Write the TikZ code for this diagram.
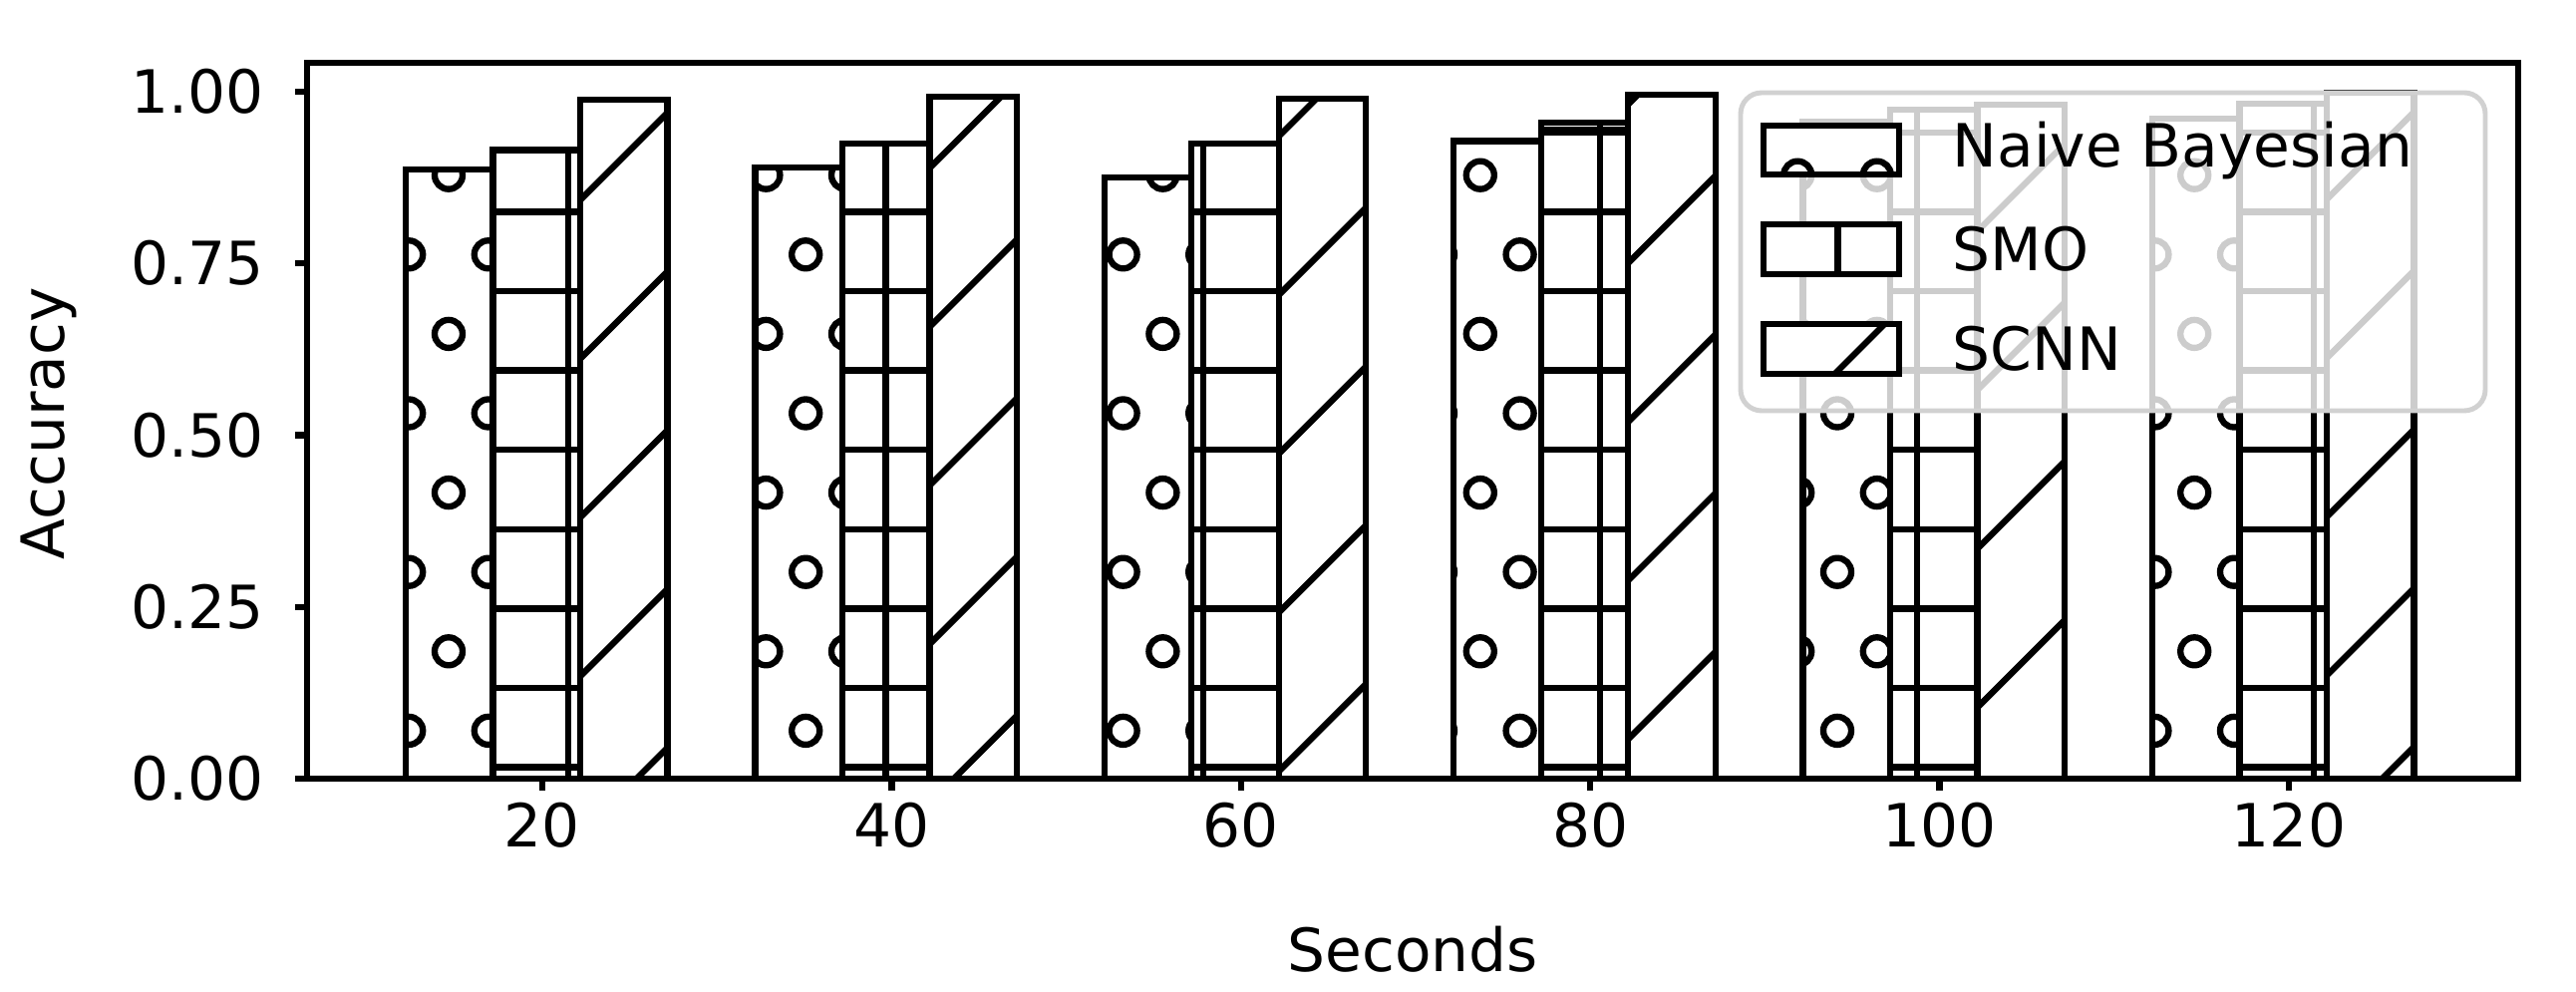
\documentclass[tikz,border=0pt]{standalone}
\usepackage{fontspec}
\setmainfont{DejaVu Sans}
\begin{document}
\begin{tikzpicture}[x=0.01cm,y=-0.01cm,
  bl/.style={line width=1.8pt},
  hl/.style={line width=1.8pt},
  lab/.style={font=\fontsize{17}{20}\selectfont,inner sep=0pt}]
\useasboundingbox (0,0) rectangle (2584,995);
\def\P{79.6}
\newcommand\patdots[3]{%
  \pgfmathtruncatemacro\mA{floor((#1-450)/79.6)-1}%
  \pgfmathtruncatemacro\mB{\mA+3}%
  \foreach \m in {\mA,...,\mB}{\foreach \n in {-1,...,5}{
    \draw[hl] (450+\m*\P,175.7+\n*159.2) circle[radius=0.14cm];
    \draw[hl] (489.8+\m*\P,255.3+\n*159.2) circle[radius=0.14cm];}}}
\newcommand\patgrid[3]{%
  \foreach \k in {0,...,9}{\draw[hl] (#1,769.6-\k*\P) -- (#2,769.6-\k*\P);}%
  \pgfmathtruncatemacro\mA{floor((#1-570)/79.6)}%
  \pgfmathtruncatemacro\mB{\mA+2}%
  \foreach \m in {\mA,...,\mB}{\draw[hl] (570+\m*\P,0) -- (570+\m*\P,800);}}
\newcommand\patdiag[3]{%
  \pgfmathtruncatemacro\kA{floor((#1-670-112.7)/159.2)-1}%
  \pgfmathtruncatemacro\kB{\kA+7}%
  \foreach \k in {\kA,...,\kB}{\draw[hl] (#1-10,{112.7-(#1-10-670)+\k*159.2}) -- (#2+10,{112.7-(#2+10-670)+\k*159.2});}}
\newcommand\onebar[5]{% x0 x1 ytop ybot pattern
  \fill[white] (#1,#3) rectangle (#2,#4);
  \begin{scope}\clip (#1,#3) rectangle (#2,#4); #5{#1}{#2}{#3}\end{scope}
  \draw[bl] (#1,#3) rectangle (#2,#4);}
% bars
\foreach \i/\a/\b/\c in {0/169.9/150.6/100.3, 1/167.8/143.7/96.8, 2/178.1/143.7/98.9, 3/141.6/123/95, 4/121.7/110/105, 5/119/104/93}{
  \pgfmathsetmacro\t{544+350.4*\i}
  \onebar{\t-137}{\t-49.5}{\a}{781}{\patdots}
  \onebar{\t-49.5}{\t+38}{\b}{781}{\patgrid}
  \onebar{\t+38}{\t+125.5}{\c}{781}{\patdiag}
}
\draw[hl] (1597-49.5,130) -- (1597+38,130);
% axes
\draw[bl] (308,63) rectangle (2526,781);
\foreach \v/\s in {0/0.00,1/0.25,2/0.50,3/0.75,4/1.00}{
  \coordinate (yt\v) at (308,781-172.25*\v);
  \draw[bl] (yt\v) -- ++(-12,0);
  \node[lab,anchor=east] (yl\v) at (265,781-172.25*\v) {\s};}
\foreach \i/\s in {0/20,1/40,2/60,3/80,4/100,5/120}{
  \coordinate (xt\i) at (544+350.4*\i,781);
  \draw[bl] (xt\i) -- ++(0,12);
  \node[lab,anchor=north] (xl\i) at (544+350.4*\i,804) {\s};}
\node[lab,rotate=90] (ylab) at (49,425) {Accuracy};
\node[lab] (xlab) at (1417,952) {Seconds};
% legend
\draw[rounded corners=6pt,line width=1.4pt,draw=black!18,fill=white,fill opacity=0.8] (1746,93) rectangle (2493,412);
\onebar{1769}{1905}{126}{175}{\patdots}
\onebar{1769}{1905}{225}{275}{\patgrid}
\onebar{1769}{1905}{325}{375}{\patdiag}
\node[lab,anchor=west] (l1) at (1958,151) {Naive Bayesian};
\node[lab,anchor=west] (l2) at (1958,250) {SMO};
\node[lab,anchor=west] (l3) at (1958,350) {SCNN};
\end{tikzpicture}
\end{document}
